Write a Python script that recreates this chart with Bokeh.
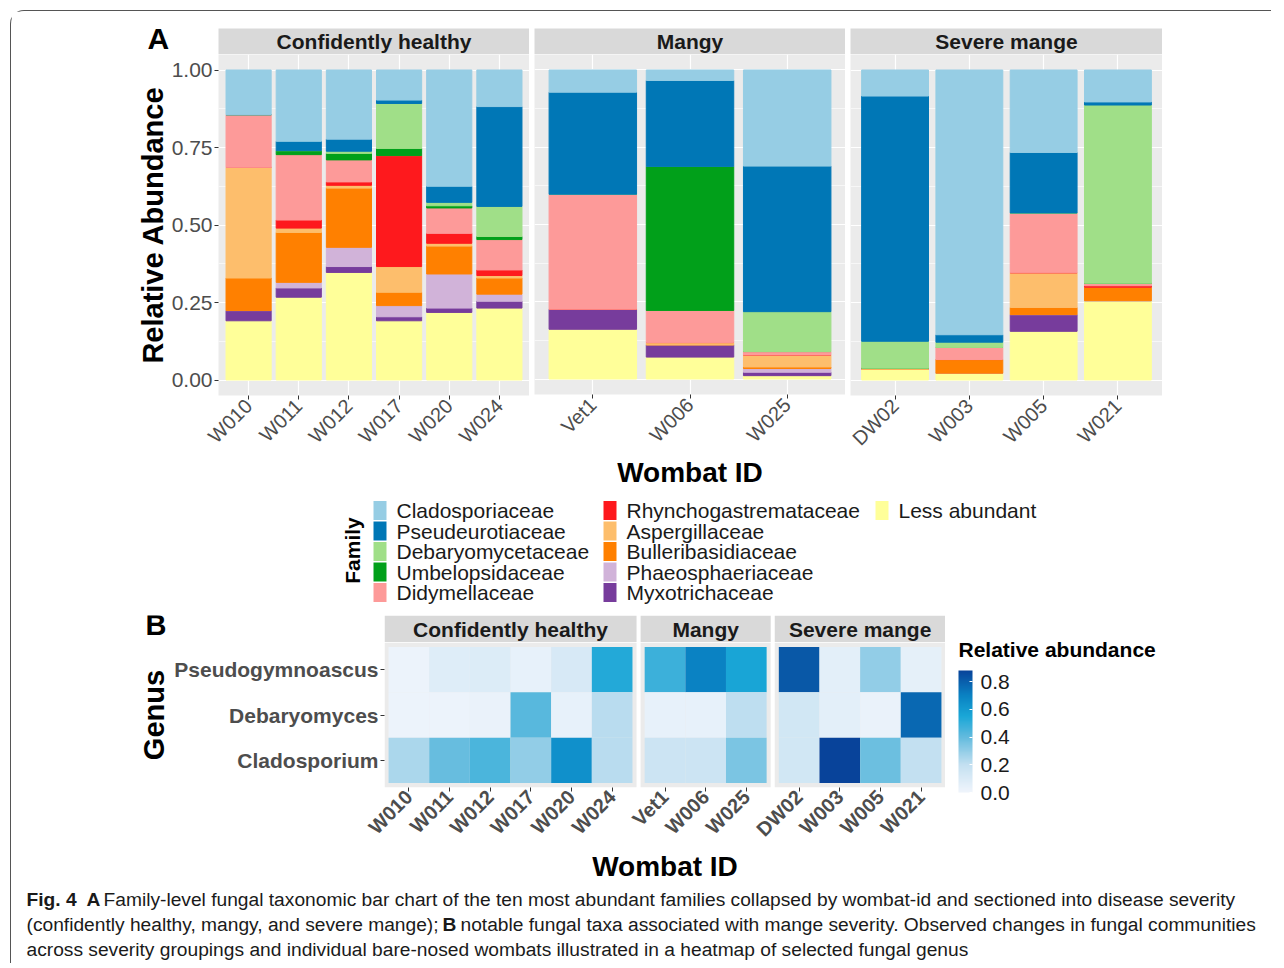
import math
from bokeh.plotting import figure
from bokeh.models import (ColumnDataSource, FactorRange, Range1d, FixedTicker,
                          PrintfTickFormatter, Grid, LinearColorMapper, ColorBar, Spacer)
from bokeh.layouts import row, column
from bokeh.embed import file_html
from bokeh.resources import INLINE
from bokeh.core.properties import value

# ------------------------------------------------------------------ data
groups = ["Confidently healthy", "Mangy", "Severe mange"]
ids_healthy = ["W010", "W011", "W012", "W017", "W020", "W024"]
ids_mangy = ["Vet1", "W006", "W025"]
ids_severe = ["DW02", "W003", "W005", "W021"]

families = ["Cladosporiaceae", "Pseudeurotiaceae", "Debaryomycetaceae", "Umbelopsidaceae",
            "Didymellaceae", "Rhynchogastremataceae", "Aspergillaceae", "Bulleribasidiaceae",
            "Phaeosphaeriaceae", "Myxotrichaceae", "Less abundant"]
family_colors = ["#96CDE4", "#0077B6", "#A0DF88", "#01A01A", "#FD9A99", "#FE191D",
                 "#FDBE6C", "#FF8000", "#D1B3D9", "#773C9C", "#FFFF99"]

# relative abundance per family; wombats ordered healthy, mangy, severe
cladosporiaceae = [0.144, 0.230, 0.223, 0.097, 0.375, 0.118, 0.072, 0.034, 0.311, 0.084, 0.854, 0.266, 0.103]
pseudeurotiaceae = [0.000, 0.030, 0.039, 0.011, 0.052, 0.322, 0.330, 0.278, 0.471, 0.791, 0.024, 0.195, 0.010]
debaryomycetaceae = [0.000, 0.000, 0.007, 0.145, 0.011, 0.097, 0.000, 0.000, 0.129, 0.087, 0.017, 0.000, 0.575]
umbelopsidaceae = [0.000, 0.013, 0.021, 0.023, 0.007, 0.010, 0.000, 0.466, 0.000, 0.000, 0.000, 0.000, 0.000]
didymellaceae = [0.170, 0.211, 0.071, 0.000, 0.082, 0.098, 0.372, 0.104, 0.011, 0.000, 0.039, 0.193, 0.008]
rhynchogastremataceae = [0.000, 0.026, 0.011, 0.358, 0.032, 0.018, 0.000, 0.000, 0.000, 0.000, 0.000, 0.000, 0.005]
aspergillaceae = [0.357, 0.014, 0.009, 0.083, 0.009, 0.008, 0.000, 0.007, 0.039, 0.003, 0.000, 0.112, 0.000]
bulleribasidiaceae = [0.105, 0.161, 0.191, 0.043, 0.090, 0.052, 0.000, 0.000, 0.005, 0.000, 0.044, 0.023, 0.043]
phaeosphaeriaceae = [0.000, 0.018, 0.062, 0.036, 0.110, 0.023, 0.000, 0.000, 0.012, 0.000, 0.000, 0.000, 0.000]
myxotrichaceae = [0.033, 0.030, 0.019, 0.013, 0.014, 0.022, 0.065, 0.040, 0.011, 0.000, 0.000, 0.054, 0.000]
less_abundant = [0.191, 0.267, 0.347, 0.191, 0.218, 0.232, 0.161, 0.071, 0.011, 0.035, 0.022, 0.157, 0.256]

genera = ["Pseudogymnoascus", "Debaryomyces", "Cladosporium"]
pseudogymnoascus = [0.02, 0.08, 0.09, 0.04, 0.11, 0.53, 0.48, 0.70, 0.56, 0.82, 0.06, 0.30, 0.05]
debaryomyces = [0.02, 0.02, 0.03, 0.42, 0.04, 0.22, 0.04, 0.04, 0.21, 0.14, 0.06, 0.03, 0.77]
cladosporium = [0.25, 0.39, 0.45, 0.30, 0.64, 0.22, 0.16, 0.16, 0.35, 0.14, 0.88, 0.38, 0.20]

y_ticks = [0.0, 0.25, 0.50, 0.75, 1.00]
cb_ticks = [0.0, 0.2, 0.4, 0.6, 0.8]
heat_max = 0.88

caption_lines = [
    [("Fig. 4", "bold"), ("A", "bold"),
     ("Family-level fungal taxonomic bar chart of the ten most abundant families collapsed by wombat-id and sectioned into disease severity", "normal")],
    [("(confidently healthy, mangy, and severe mange);", "normal"), ("B", "bold"),
     ("notable fungal taxa associated with mange severity. Observed changes in fungal communities", "normal")],
    [("across severity groupings and individual bare-nosed wombats illustrated in a heatmap of selected fungal genus", "normal")],
]

# ------------------------------------------------------------------ styling
FONT = "Liberation Sans"
PANEL = "#EBEBEB"
STRIP = "#D9D9D9"
GREYTXT = "#4D4D4D"

group_ids = [ids_healthy, ids_mangy, ids_severe]
all_ids = ids_healthy + ids_mangy + ids_severe
abund = dict(zip(families, [cladosporiaceae, pseudeurotiaceae, debaryomycetaceae, umbelopsidaceae,
                            didymellaceae, rhynchogastremataceae, aspergillaceae, bulleribasidiaceae,
                            phaeosphaeriaceae, myxotrichaceae, less_abundant]))
heat = dict(zip(genera, [pseudogymnoascus, debaryomyces, cladosporium]))
stack_order = families[::-1]
stack_colors = family_colors[::-1]
y_minor = [(a + b) / 2 for a, b in zip(y_ticks[:-1], y_ticks[1:])]


def interp_palette(stops, n=256):
    def h2r(h):
        h = h.lstrip("#")
        return [int(h[i:i + 2], 16) for i in (0, 2, 4)]
    lo, hi = stops[0][0], stops[-1][0]
    out = []
    for k in range(n):
        t = lo + (hi - lo) * k / (n - 1)
        for (a, ca), (b, cb) in zip(stops[:-1], stops[1:]):
            if a <= t <= b:
                f = (t - a) / (b - a) if b > a else 0
                c1, c2 = h2r(ca), h2r(cb)
                out.append("#%02x%02x%02x" % tuple(int(round(c1[i] + (c2[i] - c1[i]) * f)) for i in range(3)))
                break
    return out


palette = interp_palette([(0.0, "#F0F5FC"), (0.2, "#C3E0F1"), (0.4, "#62BBDE"),
                          (0.55, "#1AA7D7"), (0.7, "#0A82C3"), (heat_max, "#08439A")])
mapper = LinearColorMapper(palette=palette, low=0.0, high=heat_max)


def base_fig(**kw):
    return figure(title=None, toolbar_location=None, output_backend="svg", **kw)


def pixel_fig(x0, x1, y0, y1):
    """A blank figure whose data coordinates equal page pixels (for free text)."""
    f = base_fig(width=x1 - x0, height=y1 - y0, x_range=Range1d(x0, x1), y_range=Range1d(y1, y0),
                 x_axis_location=None, y_axis_location=None,
                 min_border_left=0, min_border_right=0, min_border_top=0, min_border_bottom=0,
                 background_fill_color="white", border_fill_color="white", outline_line_color=None)
    f.grid.visible = False
    return f


def strip_fig(text, width, left, top, height):
    s = base_fig(width=width, height=height, x_range=Range1d(0, 1), y_range=Range1d(0, 1),
                 x_axis_location=None, y_axis_location=None,
                 min_border_left=left, min_border_right=0, min_border_top=top, min_border_bottom=0,
                 background_fill_color=STRIP, border_fill_color="white", outline_line_color=None)
    s.grid.visible = False
    s.text(x=[0.5], y=[0.5], text=[text], text_align="center", text_baseline="middle",
           text_font=value(FONT), text_font_size=value("21px"), text_font_style="bold",
           text_color="#1A1A1A")
    return s


def style_axis(ax, bold=False, size="20px"):
    ax.axis_line_color = None
    ax.major_tick_line_color = "#333333"
    ax.major_tick_out = 4
    ax.major_tick_in = 0
    ax.minor_tick_out = 0
    ax.minor_tick_in = 0
    ax.major_label_text_font = FONT
    ax.major_label_text_font_size = size
    ax.major_label_text_color = GREYTXT
    ax.major_label_text_font_style = "bold" if bold else "normal"
    ax.axis_label_text_font = FONT
    ax.axis_label_text_font_style = "bold"
    ax.axis_label_text_color = "black"


def bar_facet(ids, width, left, show_y, xlabel=None):
    idx = [all_ids.index(i) for i in ids]
    data = {"id": ids}
    for f in families:
        data[f] = [abund[f][k] for k in idx]
    src = ColumnDataSource(data)
    p = base_fig(width=width, height=436,
                 x_range=FactorRange(factors=ids, range_padding=0.1, range_padding_units="absolute"),
                 y_range=Range1d(-0.05, 1.05),
                 y_axis_location="left" if show_y else None,
                 min_border_left=left, min_border_right=0, min_border_top=0, min_border_bottom=95,
                 background_fill_color=PANEL, border_fill_color="white", outline_line_color=None)
    p.vbar_stack(stack_order, x="id", width=0.9, color=stack_colors, source=src)
    p.xgrid.grid_line_color = "white"
    p.xgrid.grid_line_width = 1.2
    if show_y:
        ya = p.yaxis[0]
        ya.ticker = FixedTicker(ticks=y_ticks, minor_ticks=y_minor)
        ya.formatter = PrintfTickFormatter(format="%.2f")
        style_axis(ya)
        ya.major_label_text_font_size = "21px"
        ya.major_label_standoff = 2
        ya.axis_label = "Relative Abundance"
        ya.axis_label_text_font_size = "29px"
        ya.axis_label_standoff = 0
        p.ygrid.grid_line_color = "white"
        p.ygrid.grid_line_width = 1.2
        p.ygrid.minor_grid_line_color = "white"
        p.ygrid.minor_grid_line_width = 0.6
    else:
        p.ygrid.visible = False
        p.add_layout(Grid(dimension=1, ticker=FixedTicker(ticks=y_ticks, minor_ticks=y_minor),
                          grid_line_color="white", grid_line_width=1.2,
                          minor_grid_line_color="white", minor_grid_line_width=0.6))
    xa = p.xaxis[0]
    style_axis(xa)
    xa.major_label_orientation = math.pi / 4
    xa.major_label_standoff = 3
    if xlabel:
        xa.axis_label = xlabel
        xa.axis_label_text_font_size = "28px"
        xa.axis_label_standoff = 0
    return p


# ------------------------------------------------------------------ panel A
figA = pixel_fig(11, 218, 11, 54)
figA.text(x=[147], y=[28], text=["A"], text_font=value(FONT), text_font_size=value("30px"),
          text_font_style="bold", text_color="black", text_baseline="middle", text_align="left")
sA1 = strip_fig(groups[0], 311, 0, 17, 43)
sA2 = strip_fig(groups[1], 316, 5, 17, 43)
sA3 = strip_fig(groups[2], 317, 5, 17, 43)
fA1 = bar_facet(ids_healthy, 518, 207, True)
fA2 = bar_facet(ids_mangy, 316, 5, False, "Wombat ID")
fA3 = bar_facet(ids_severe, 317, 5, False)
rowA = row(column(row(figA, sA1), fA1), column(sA2, fA2), column(sA3, fA3))

# ------------------------------------------------------------------ legend
legend_col_x = [373, 603, 875]
legend_row_y0 = 510
legend_row_step = 20.5
fL = pixel_fig(11, 1271, 490, 604)
kx, ky, tx = [], [], []
for i, f in enumerate(families):
    c, r = divmod(i, 5)
    kx.append(legend_col_x[c] + 6.5)
    tx.append(legend_col_x[c] + 23)
    ky.append(legend_row_y0 + legend_row_step * r)
lsrc = ColumnDataSource(dict(kx=kx, ky=ky, tx=tx, label=families, color=family_colors))
fL.rect(x="kx", y="ky", width=13, height=19, fill_color="color", line_color=None, source=lsrc)
fL.text(x="tx", y="ky", text="label", source=lsrc, text_font=value(FONT), text_font_size=value("21px"),
        text_baseline="middle", text_align="left", text_color="#1A1A1A")
fL.text(x=[352], y=[550], text=["Family"], angle=math.pi / 2, text_font=value(FONT),
        text_font_size=value("21px"), text_font_style="bold", text_align="center",
        text_baseline="middle", text_color="black")

# ------------------------------------------------------------------ panel B (heatmap)
gap_units = 0.1
offsets, centers, widths = [], [], []
off = 0.0
for ids in group_ids:
    offsets.append(off)
    widths.append(len(ids) + 0.2)
    centers.append(off + (len(ids) + 0.2) / 2)
    off += len(ids) + 0.2 + gap_units
total_units = off - gap_units

tile_x = []
for o, ids in zip(offsets, group_ids):
    tile_x += [o + 0.6 + i for i in range(len(ids))]

hx, hy, hv = [], [], []
for g in genera:
    for k, wid in enumerate(all_ids):
        hx.append(tile_x[k])
        hy.append(g)
        hv.append(heat[g][k])
hsrc = ColumnDataSource(dict(x=hx, genus=hy, v=hv))

xrB = Range1d(0, total_units)
figB = pixel_fig(11, 384, 604, 642)
figB.text(x=[145], y=[617], text=["B"], text_font=value(FONT), text_font_size=value("29px"),
          text_font_style="bold", text_color="black", text_baseline="middle", text_align="left")
sB = base_fig(width=561, height=38, x_range=xrB, y_range=Range1d(0, 1),
              x_axis_location=None, y_axis_location=None,
              min_border_left=0, min_border_right=0, min_border_top=11, min_border_bottom=0,
              background_fill_color="white", border_fill_color="white", outline_line_color=None)
sB.grid.visible = False
sB.rect(x=centers, y=0.5, width=widths, height=1, fill_color=STRIP, line_color=None)
sB.text(x=centers, y=[0.5] * 3, text=groups, text_font=value(FONT), text_font_size=value("21px"),
        text_font_style="bold", text_align="center", text_baseline="middle", text_color="#1A1A1A")

fB = base_fig(width=934, height=245, x_range=xrB,
              y_range=FactorRange(factors=genera[::-1], range_padding=0.1, range_padding_units="absolute"),
              min_border_left=373, min_border_right=0, min_border_top=0, min_border_bottom=100,
              background_fill_color="white", border_fill_color="white", outline_line_color=None)
fB.grid.visible = False
fB.rect(x=centers, y=[genera[1]] * 3, width=widths, height=3.2, fill_color=PANEL, line_color=None)
fB.rect(x="x", y="genus", width=1, height=1, source=hsrc,
        fill_color={"field": "v", "transform": mapper}, line_color=None)
xb = fB.xaxis[0]
xb.ticker = FixedTicker(ticks=tile_x)
xb.major_label_overrides = dict(zip(tile_x, all_ids))
style_axis(xb, bold=True)
xb.major_label_orientation = math.pi / 4
xb.major_label_standoff = 2
xb.axis_label = "Wombat ID"
xb.axis_label_text_font_size = "28px"
xb.axis_label_standoff = 0
yb = fB.yaxis[0]
style_axis(yb, bold=True, size="21px")
yb.major_label_standoff = 2
yb.axis_label = "Genus"
yb.axis_label_text_font_size = "29px"
yb.axis_label_standoff = 1

fCB = pixel_fig(945, 1200, 604, 887)
fCB.text(x=[958], y=[649], text=["Relative abundance"], text_font=value(FONT),
         text_font_size=value("21px"), text_font_style="bold", text_color="black",
         text_baseline="middle", text_align="left")
cb = ColorBar(color_mapper=mapper, ticker=FixedTicker(ticks=cb_ticks),
              formatter=PrintfTickFormatter(format="%.1f"), width=14, height=122,
              location=(13, 95), padding=0, margin=0,
              major_label_text_font=FONT, major_label_text_font_size="21px",
              major_label_text_color="#1A1A1A", label_standoff=8,
              major_tick_line_color="white", major_tick_in=3, major_tick_out=0,
              minor_tick_line_color=None, bar_line_color=None,
              background_fill_alpha=0, border_line_color=None)
fCB.add_layout(cb)
rowB = row(column(row(figB, sB), fB), fCB)

# ------------------------------------------------------------------ caption
fCap = pixel_fig(11, 1271, 887, 963)
cap_pos = [[26, 86, 103], [26, 442, 460], [26]]
cap_y = [899, 924, 949]
for line, xs, yy in zip(caption_lines, cap_pos, cap_y):
    for (txt, style), xx in zip(line, xs):
        fCap.text(x=[xx], y=[yy], text=[txt], text_font=value(FONT), text_font_size=value("19.2px"),
                  text_font_style=style, text_align="left", text_baseline="middle", text_color="#1A1A1A")

content = column(rowA, fL, rowB, fCap,
                 styles={"border-left": "1px solid #555555", "border-top": "1px solid #555555",
                         "border-top-left-radius": "14px"})
root = column(Spacer(height=10, width=10), row(Spacer(width=10, height=10), content))

open("out.html", "w").write(file_html(root, INLINE))
